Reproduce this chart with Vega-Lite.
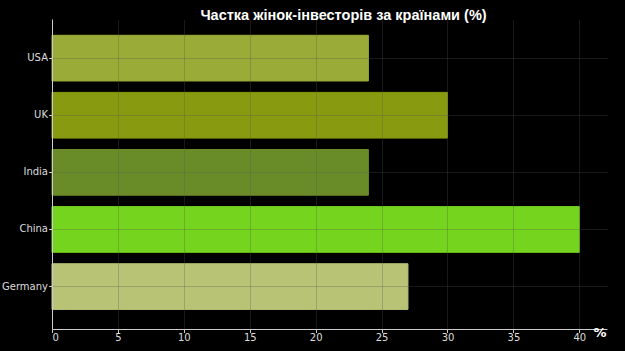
{
  "$schema": "https://vega.github.io/schema/vega-lite/v6.json",
  "width": 555,
  "height": 310,
  "autosize": {"type": "none"},
  "padding": {"left": 52, "top": 19, "right": 18, "bottom": 22},
  "background": "#000000",
  "config": {"view": {"stroke": null}, "font": "DejaVu Sans"},
  "title": {
    "text": "Частка жінок-інвесторів за країнами (%)",
    "font": "Liberation Sans",
    "fontSize": 14.5,
    "fontWeight": "bold",
    "color": "#ffffff",
    "anchor": "middle",
    "baseline": "alphabetic",
    "offset": 0,
    "dy": 15,
    "dx": 14
  },
  "data": {
    "values": [
      {"country": "USA", "share": 24, "color": "#9bab37"},
      {"country": "UK", "share": 30, "color": "#889a10"},
      {"country": "India", "share": 24, "color": "#6a8c28"},
      {"country": "China", "share": 40, "color": "#75d41e"},
      {"country": "Germany", "share": 27, "color": "#b9c376"}
    ]
  },
  "mark": {"type": "bar", "strokeWidth": 1},
  "encoding": {
    "y": {
      "field": "country",
      "type": "nominal",
      "sort": null,
      "scale": {"paddingInner": 0.2, "paddingOuter": 0.314, "align": 0.454},
      "axis": {
        "title": null,
        "labelColor": "#dddddd",
        "labelFontSize": 10,
        "labelFont": "DejaVu Sans",
        "labelPadding": 1,
        "domainColor": "#cccccc",
        "domainWidth": 1,
        "tickColor": "#cccccc",
        "tickSize": 3.5,
        "grid": true,
        "gridColor": "#555555",
        "gridOpacity": 0.6,
        "gridDash": [1, 1],
        "gridWidth": 1,
        "zindex": 1
      }
    },
    "x": {
      "field": "share",
      "type": "quantitative",
      "scale": {"domain": [0, 42.1], "nice": false},
      "axis": {
        "title": "%",
        "titleColor": "#ffffff",
        "titleFont": "DejaVu Sans",
        "titleFontSize": 13,
        "titleFontWeight": "bold",
        "titleX": 541,
        "titleY": 3,
        "titleAlign": "left",
        "titleBaseline": "middle",
        "values": [0, 5, 10, 15, 20, 25, 30, 35, 40],
        "labelColor": "#dddddd",
        "labelFontSize": 10,
        "labelFont": "DejaVu Sans",
        "labelPadding": 0,
        "domainColor": "#cccccc",
        "domainWidth": 1,
        "tickColor": "#cccccc",
        "tickSize": 3.5,
        "grid": true,
        "gridColor": "#555555",
        "gridOpacity": 0.6,
        "gridDash": [1, 1],
        "gridWidth": 1,
        "zindex": 1
      }
    },
    "color": {"field": "color", "type": "nominal", "scale": null, "legend": null},
    "stroke": {"field": "color", "type": "nominal", "scale": null, "legend": null}
  }
}
